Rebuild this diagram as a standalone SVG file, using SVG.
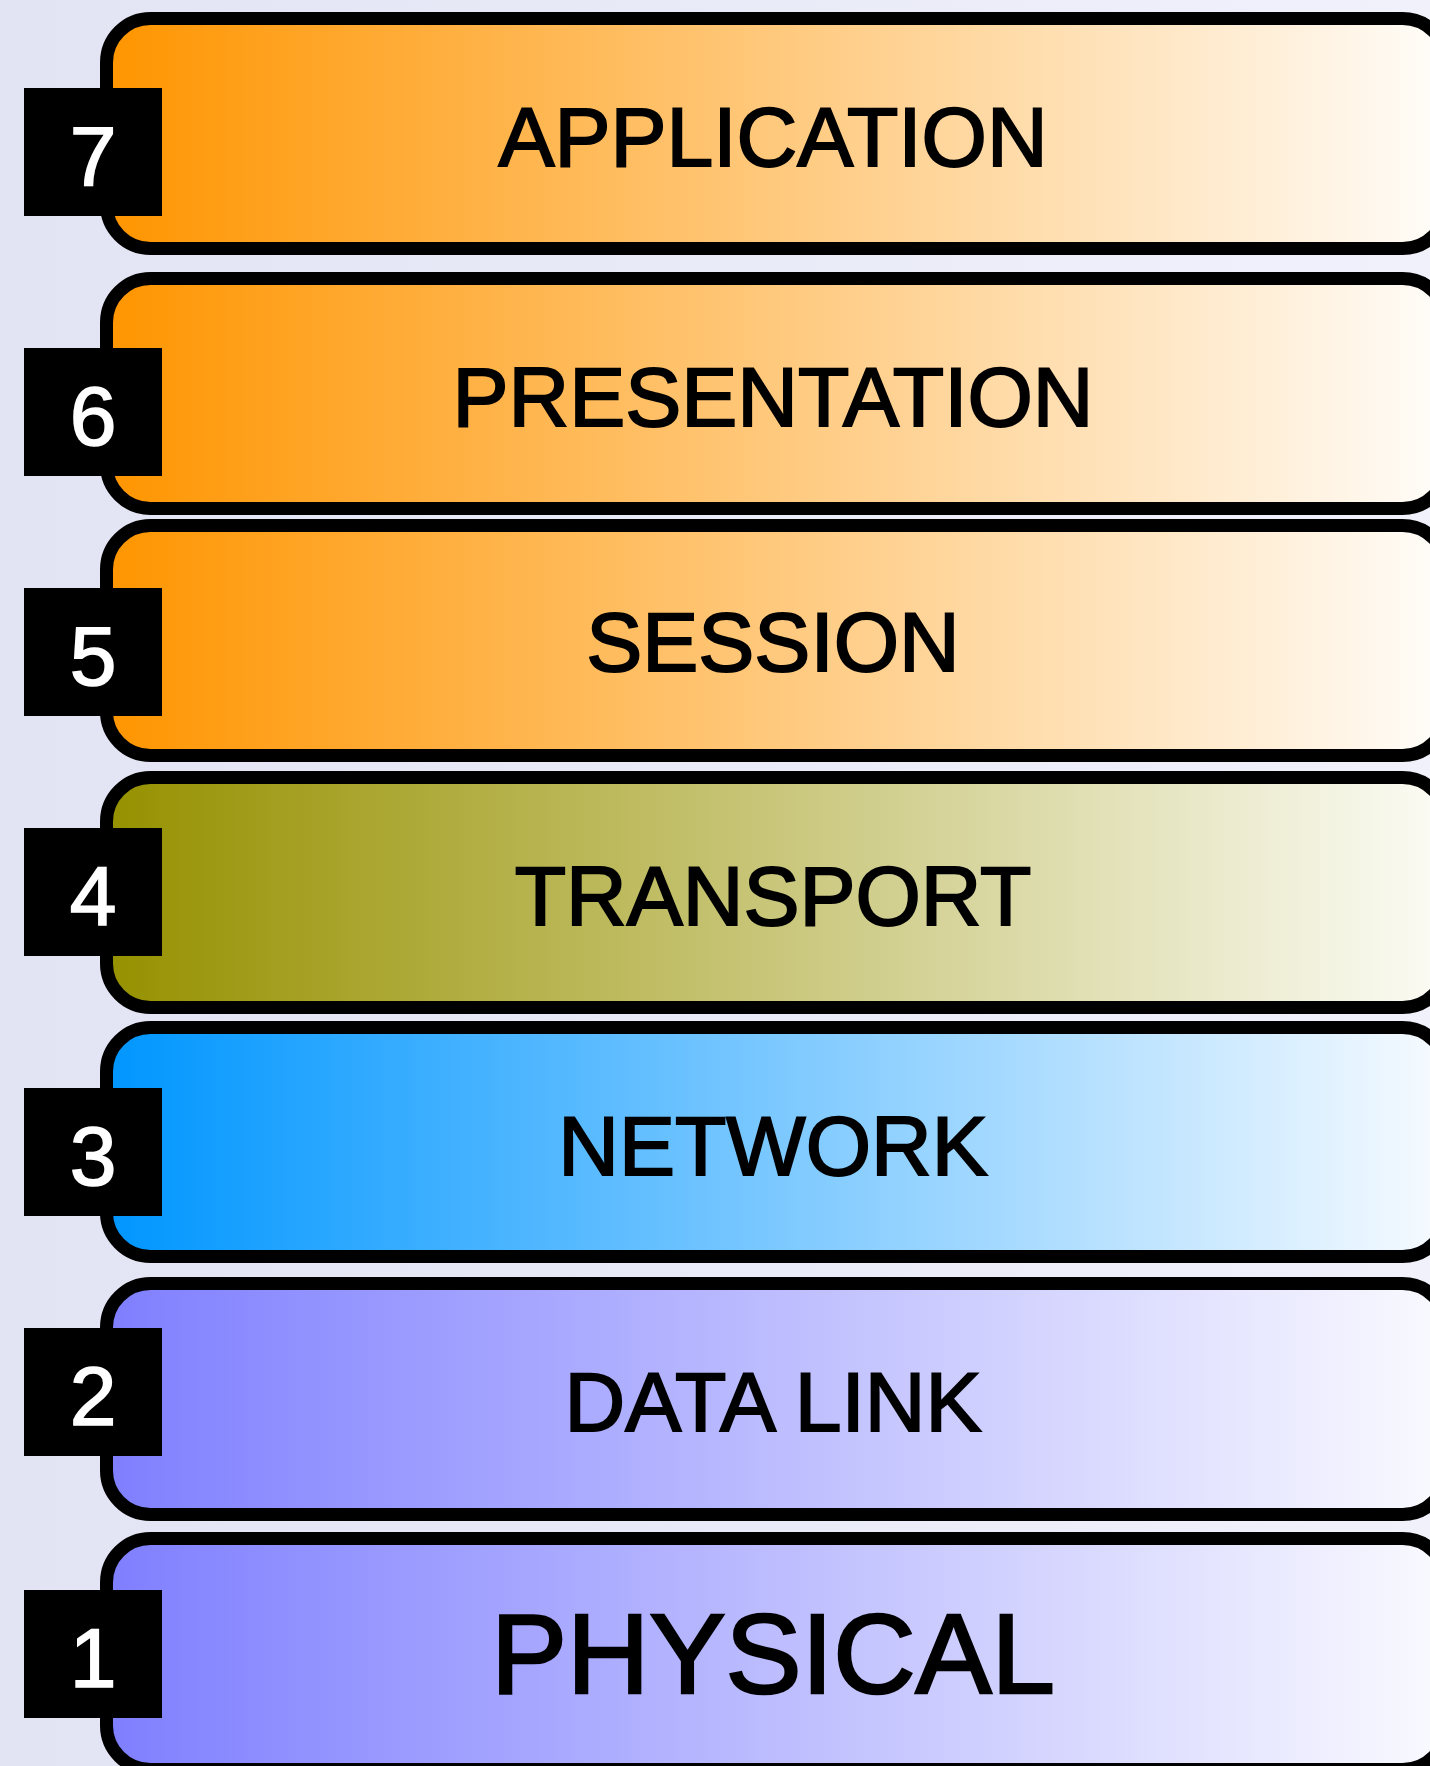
<svg xmlns="http://www.w3.org/2000/svg" width="1430" height="1766" viewBox="0 0 1430 1766">
<defs>
<linearGradient id="bg" x1="0" y1="0" x2="1" y2="0">
<stop offset="0" stop-color="#E2E4F4"/>
<stop offset="1" stop-color="#F0F1FB"/>
</linearGradient>
<linearGradient id="gOrange" x1="0" y1="0" x2="1" y2="0">
<stop offset="0" stop-color="#FF9500"/>
<stop offset="1" stop-color="#FFFDFA"/>
</linearGradient>
<linearGradient id="gOlive" x1="0" y1="0" x2="1" y2="0">
<stop offset="0" stop-color="#969100"/>
<stop offset="1" stop-color="#FCFCF6"/>
</linearGradient>
<linearGradient id="gBlue" x1="0" y1="0" x2="1" y2="0">
<stop offset="0" stop-color="#0096FF"/>
<stop offset="1" stop-color="#F7FBFF"/>
</linearGradient>
<linearGradient id="gViolet" x1="0" y1="0" x2="1" y2="0">
<stop offset="0" stop-color="#7F7FFF"/>
<stop offset="1" stop-color="#FAFAFF"/>
</linearGradient>
</defs>
<style>
.layer{stroke:#000;stroke-width:13}
.box{fill:#000}
.num{fill:#fff;stroke:#fff;stroke-width:1.6;font-family:"Liberation Sans",Arial,sans-serif;font-size:84px;text-anchor:middle}
.lbl{fill:#000;stroke:#000;stroke-width:2;font-family:"Liberation Sans",Arial,sans-serif;font-size:84px;text-anchor:middle}
.big{font-size:114px;stroke-width:2.6}
</style>
<rect x="0" y="0" width="1430" height="1766" fill="url(#bg)"/>
<g id="connectors"/>
<g id="layer7">
<rect class="layer" x="106.5" y="18.5" width="1340" height="230" rx="44" fill="url(#gOrange)"/>
<rect class="box" x="24" y="88" width="138" height="128"/>
<text class="num" x="93" y="185">7</text>
<text class="lbl" x="773" y="166">APPLICATION</text>
</g>
<g id="layer6">
<rect class="layer" x="106.5" y="278.5" width="1340" height="230" rx="44" fill="url(#gOrange)"/>
<rect class="box" x="24" y="348" width="138" height="128"/>
<text class="num" x="93" y="445">6</text>
<text class="lbl" x="773" y="426">PRESENTATION</text>
</g>
<g id="layer5">
<rect class="layer" x="106.5" y="525.5" width="1340" height="230" rx="44" fill="url(#gOrange)"/>
<rect class="box" x="24" y="588" width="138" height="128"/>
<text class="num" x="93" y="685">5</text>
<text class="lbl" x="773" y="671">SESSION</text>
</g>
<g id="layer4">
<rect class="layer" x="106.5" y="777.5" width="1340" height="230" rx="44" fill="url(#gOlive)"/>
<rect class="box" x="24" y="828" width="138" height="128"/>
<text class="num" x="93" y="925">4</text>
<text class="lbl" x="773" y="925">TRANSPORT</text>
</g>
<g id="layer3">
<rect class="layer" x="106.5" y="1027.5" width="1340" height="229" rx="44" fill="url(#gBlue)"/>
<rect class="box" x="24" y="1088" width="138" height="128"/>
<text class="num" x="93" y="1185">3</text>
<text class="lbl" x="773" y="1175">NETWORK</text>
</g>
<g id="layer2">
<rect class="layer" x="106.5" y="1283.5" width="1340" height="231" rx="44" fill="url(#gViolet)"/>
<rect class="box" x="24" y="1328" width="138" height="128"/>
<text class="num" x="93" y="1425">2</text>
<text class="lbl" x="773" y="1431">DATA LINK</text>
</g>
<g id="layer1">
<rect class="layer" x="106.5" y="1538.5" width="1340" height="231" rx="44" fill="url(#gViolet)"/>
<rect class="box" x="24" y="1590" width="138" height="128"/>
<text class="num" x="93" y="1687">1</text>
<text class="lbl big" x="773" y="1693">PHYSICAL</text>
</g>
</svg>
